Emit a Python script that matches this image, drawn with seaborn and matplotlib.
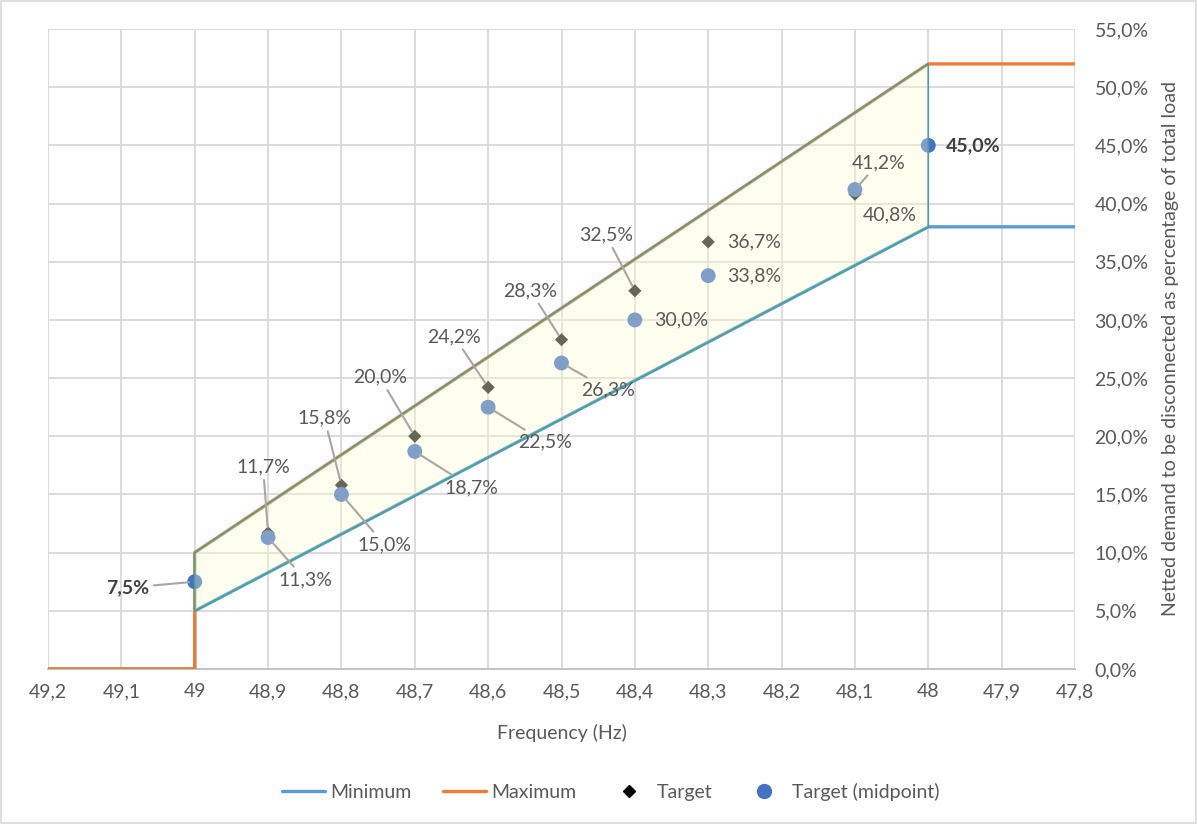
import matplotlib
matplotlib.use("Agg")
import matplotlib.pyplot as plt
import seaborn as sns
import pandas as pd
from matplotlib.ticker import FixedLocator, FuncFormatter, MultipleLocator
from matplotlib.lines import Line2D
from matplotlib.patches import Rectangle

# ---- data -------------------------------------------------------------
freq_limits = [49.2, 49.0, 49.0, 48.0, 47.8]
minimum = [0.0, 0.0, 5.0, 38.0, 38.0]
maximum = [0.0, 0.0, 10.0, 52.0, 52.0]

target_freq = [48.9, 48.8, 48.7, 48.6, 48.5, 48.4, 48.3, 48.1]
target = [11.7, 15.8, 20.0, 24.2, 28.3, 32.5, 36.7, 40.8]

mid_freq = [49.0, 48.9, 48.8, 48.7, 48.6, 48.5, 48.4, 48.3, 48.1, 48.0]
midpoint = [7.5, 11.3, 15.0, 18.7, 22.5, 26.3, 30.0, 33.8, 41.2, 45.0]

x_ticks = [49.2, 49.1, 49.0, 48.9, 48.8, 48.7, 48.6, 48.5, 48.4, 48.3,
           48.2, 48.1, 48.0, 47.9, 47.8]
x_tick_labels = ["49,2", "49,1", "49", "48,9", "48,8", "48,7", "48,6", "48,5",
                 "48,4", "48,3", "48,2", "48,1", "48", "47,9", "47,8"]

# ---- style --------------------------------------------------------------
sns.set_theme(style="white")
plt.rcParams["font.family"] = ["Lato", "DejaVu Sans"]

C_MIN = "#5B9BD5"
C_MAX = "#ED7D31"
C_EDGE = "#4E9F9A"
C_DOT = "#4472C4"
C_TXT = "#595959"
C_GRID = "#D9D9D9"
C_LEAD = "#A6A6A6"
FS = 14

fig = plt.figure(figsize=(11.97, 8.24), dpi=100)
ax = fig.add_axes([48 / 1197, 1 - 669 / 824, (1075 - 48) / 1197, (669 - 29) / 824])

limits = pd.DataFrame({"freq": freq_limits, "Minimum": minimum, "Maximum": maximum})
targets = pd.DataFrame({"freq": target_freq, "value": target})
mids = pd.DataFrame({"freq": mid_freq, "value": midpoint})

sns.lineplot(data=limits, x="freq", y="Minimum", sort=False, estimator=None,
             color=C_MIN, lw=2.4, ax=ax, zorder=3)
sns.lineplot(data=limits, x="freq", y="Maximum", sort=False, estimator=None,
             color=C_MAX, lw=2.4, ax=ax, zorder=3)
sns.scatterplot(data=targets, x="freq", y="value", marker="D", s=45,
                color="#1F1F1F", edgecolor="none", ax=ax, zorder=4)
sns.scatterplot(data=mids, x="freq", y="value", marker="o", s=115,
                color=C_DOT, edgecolor="none", ax=ax, zorder=4)

# shaded envelope between the limits (49 Hz .. 48 Hz)
env_x = freq_limits[2:4] + freq_limits[2:4][::-1]
env_y = minimum[2:4] + maximum[2:4][::-1]
ax.fill(env_x, env_y, facecolor=(1.0, 1.0, 0.82, 0.32), edgecolor="none", zorder=5)
ax.fill(env_x, env_y, facecolor="none", edgecolor=C_EDGE, lw=1.2, zorder=5)

# ---- axes ---------------------------------------------------------------
ax.set_xlim(49.2, 47.8)
ax.set_ylim(0, 55)
ax.xaxis.set_major_locator(FixedLocator(x_ticks))
ax.set_xticklabels(x_tick_labels)
ax.yaxis.set_major_locator(MultipleLocator(5))
ax.yaxis.set_major_formatter(FuncFormatter(lambda v, _: f"{v:.1f}%".replace(".", ",")))
ax.yaxis.tick_right()
ax.yaxis.set_label_position("right")
ax.grid(True, color=C_GRID, lw=1.3, zorder=0)
ax.set_axisbelow(True)
for s in ["top", "left", "right"]:
    ax.spines[s].set_visible(False)
ax.spines["bottom"].set_color("#BFBFBF")
ax.spines["bottom"].set_linewidth(1.3)
ax.tick_params(axis="both", length=0, labelsize=FS, labelcolor=C_TXT)
ax.tick_params(axis="x", pad=10)
ax.tick_params(axis="y", pad=14)
ax.set_xlabel("Frequency (Hz)", fontsize=FS, color=C_TXT, labelpad=17)
ax.set_ylabel("Netted demand to be disconnected as percentage of total load",
              fontsize=FS, color=C_TXT, labelpad=10)


def pct(v):
    return f"{v:.1f}%".replace(".", ",")


def label(x, y, dx, dy, lead=True, bold=False, ha="center"):
    kw = dict(fontsize=FS, color="#404040" if bold else C_TXT,
              fontweight="bold" if bold else "normal")
    arrow = dict(arrowstyle="-", color=C_LEAD, lw=1.5, shrinkA=1, shrinkB=4) if lead else None
    ax.annotate(pct(y), xy=(x, y), xytext=(dx, dy), textcoords="offset pixels",
                ha=ha, va="center", arrowprops=arrow, zorder=6, **kw)


# target labels: (dx, dy, leader)
target_layout = [(-5, 66, True), (-17, 67, True), (-35, 59, True), (-34, 51, True),
                 (-31, 49, True), (-29, 56, True), (19, 0, False), (8, -21, False)]
for f, v, (dx, dy, lead) in zip(target_freq, target, target_layout):
    label(f, v, dx, dy, lead, ha="center" if lead else "left")

# midpoint labels
mid_layout = [(-67, -6, True), (37, -42, True), (43, -50, True), (57, -36, True),
              (57, -35, True), (47, -27, True), (19, 0, False), (19, 0, False),
              (24, 27, True), (18, 0, False)]
for i, (f, v, (dx, dy, lead)) in enumerate(zip(mid_freq, midpoint, mid_layout)):
    bold = i in (0, len(mid_freq) - 1)
    ha = "center" if lead else "left"
    label(f, v, dx, dy, lead, bold=bold, ha=ha)

# ---- legend -------------------------------------------------------------
handles = [
    Line2D([], [], color=C_MIN, lw=2.4),
    Line2D([], [], color=C_MAX, lw=2.4),
    Line2D([], [], color="black", marker="D", ls="none", markersize=6.5),
    Line2D([], [], color=C_DOT, marker="o", ls="none", markersize=10),
]
fig.legend(handles, ["Minimum", "Maximum", "Target", "Target (midpoint)"],
           loc="center", bbox_to_anchor=(0.51, 1 - 792 / 824), ncol=4, frameon=False,
           fontsize=FS, labelcolor=C_TXT, handlelength=2.2, columnspacing=1.6,
           handletextpad=0.3)

fig.patches.append(Rectangle((0.001, 0.001), 0.998, 0.998, transform=fig.transFigure,
                             fill=False, edgecolor="#D9D9D9", lw=1.2))

fig.savefig("out.png", dpi=100)
